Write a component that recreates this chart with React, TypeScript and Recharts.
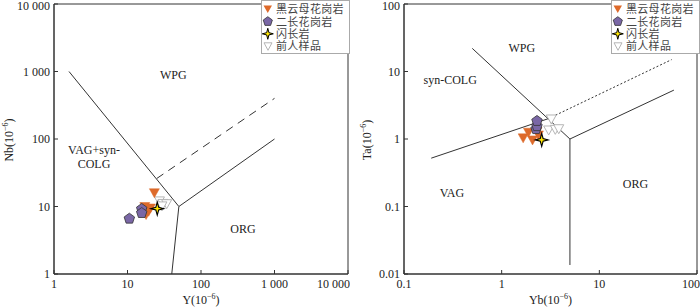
import React from 'react';
import {
  ScatterChart,
  Scatter,
  XAxis,
  YAxis,
  ReferenceLine,
  ReferenceDot,
  ReferenceArea,
  Label,
} from 'recharts';

// ---------- data: left panel (Nb vs Y) ----------
const leftBiotite = [
  { x: 23.2, y: 16 },
  { x: 20.5, y: 9.5 },
  { x: 19.4, y: 8.5 },
  { x: 17.9, y: 7.6 },
  { x: 17.2, y: 10 },
];
const leftPlagio = [
  { x: 10.6, y: 6.6 },
  { x: 15.6, y: 9.2 },
  { x: 15.6, y: 8.0 },
];
const leftDiorite = [{ x: 25.4, y: 9.3 }];
const leftPrevious = [
  { x: 27.2, y: 12.1 },
  { x: 30.4, y: 11.1 },
  { x: 34.1, y: 11.0 },
  { x: 29.4, y: 10.2 },
];

// boundaries (left)
const leftVagWpg = [{ x: 1.6, y: 1000 }, { x: 50, y: 10 }];
const leftOrgWpg = [{ x: 50, y: 10 }, { x: 1000, y: 100 }];
const leftVagOrg = [{ x: 50, y: 10 }, { x: 40, y: 1 }];
const leftDashed = [{ x: 25, y: 26 }, { x: 1000, y: 400 }];

const leftXTicks = [1, 10, 100, 1000, 10000];
const leftYTicks = [1, 10, 100, 1000, 10000];

const leftRegions = [
  { x: 42, y: 900, text: 'WPG' },
  { x: 3.5, y: 68, text: 'VAG+syn-' },
  { x: 3.5, y: 43, text: 'COLG' },
  { x: 373, y: 4.6, text: 'ORG' },
];

// ---------- data: right panel (Ta vs Yb) ----------
const rightBiotite = [
  { x: 1.66, y: 1.04 },
  { x: 1.88, y: 1.26 },
  { x: 2.07, y: 0.97 },
  { x: 2.38, y: 1.15 },
  { x: 2.3, y: 1.3 },
];
const rightPlagio = [
  { x: 2.25, y: 1.4 },
  { x: 2.3, y: 1.55 },
  { x: 2.3, y: 1.85 },
];
const rightDiorite = [{ x: 2.57, y: 0.97 }];
const rightPrevious = [
  { x: 3.22, y: 1.98 },
  { x: 3.03, y: 1.36 },
  { x: 3.54, y: 1.39 },
  { x: 3.84, y: 1.42 },
];

const rightSynWpg = [{ x: 0.5, y: 22 }, { x: 5, y: 1 }];
const rightVagSyn = [{ x: 0.19, y: 0.52 }, { x: 3, y: 2 }];
const rightDotted = [{ x: 3, y: 2 }, { x: 55, y: 15 }];
const rightOrgWpg = [{ x: 5, y: 1 }, { x: 58, y: 5.3 }];
const rightVagOrg = [{ x: 5, y: 1 }, { x: 5, y: 0.0136 }];

const rightXTicks = [0.1, 1, 10, 100];
const rightYTicks = [0.01, 0.1, 1, 10, 100];

const rightRegions = [
  { x: 1.61, y: 22, text: 'WPG' },
  { x: 0.297, y: 7.5, text: 'syn-COLG' },
  { x: 0.31, y: 0.16, text: 'VAG' },
  { x: 23.4, y: 0.213, text: 'ORG' },
];

const legendNames = ['黑云母花岗岩', '二长花岗岩', '闪长岩', '前人样品'];

// ---------- styles ----------
const SERIF = '"Liberation Serif", "Times New Roman", serif';
const CJK = '"Noto Sans CJK SC", sans-serif';
const LINE = '#333';
const ORANGE = '#DD6A2B';
const PURPLE = '#7A67A6';
const YELLOW = '#FFE600';
const GRAY = '#b5b5b5';

const fmt = (v: number) => {
  if (v >= 1000) return String(v).replace(/\B(?=(\d{3})+(?!\d))/g, ' ');
  return String(v);
};

const DownTri = (p: any) => {
  const { cx, cy } = p;
  if (cx == null || cy == null) return null;
  return (
    <polygon
      points={`${cx - 5},${cy - 4} ${cx + 5},${cy - 4} ${cx},${cy + 5}`}
      fill={ORANGE}
      stroke={ORANGE}
      strokeWidth={0.5}
    />
  );
};

const HollowTri = (p: any) => {
  const { cx, cy } = p;
  if (cx == null || cy == null) return null;
  return (
    <polygon
      points={`${cx - 5},${cy - 4} ${cx + 5},${cy - 4} ${cx},${cy + 5}`}
      fill="#fff"
      stroke={GRAY}
      strokeWidth={1}
    />
  );
};

const pentPoints = (cx: number, cy: number, r: number) => {
  const pts: string[] = [];
  for (let k = 0; k < 5; k++) {
    const a = (-90 + 72 * k) * (Math.PI / 180);
    pts.push(`${cx + r * Math.cos(a)},${cy + r * Math.sin(a)}`);
  }
  return pts.join(' ');
};

const Pent = (p: any) => {
  const { cx, cy } = p;
  if (cx == null || cy == null) return null;
  return <polygon points={pentPoints(cx, cy, 5.5)} fill={PURPLE} stroke="#333" strokeWidth={0.8} />;
};

const starPoints = (cx: number, cy: number, ro: number, ri: number) => {
  const pts: string[] = [];
  for (let k = 0; k < 8; k++) {
    const a = (-90 + 45 * k) * (Math.PI / 180);
    const r = k % 2 === 0 ? ro : ri;
    pts.push(`${cx + r * Math.cos(a)},${cy + r * Math.sin(a)}`);
  }
  return pts.join(' ');
};

const Star = (p: any) => {
  const { cx, cy } = p;
  if (cx == null || cy == null) return null;
  return <polygon points={starPoints(cx, cy, 6.5, 2)} fill={YELLOW} stroke="#000" strokeWidth={1.1} />;
};

const regionShape = (text: string) => (p: any) => (
  <text
    x={p.cx}
    y={p.cy}
    textAnchor="middle"
    dominantBaseline="central"
    fontFamily={SERIF}
    fontSize={12}
    fill="#222"
  >
    {text}
  </text>
);

const XTitle = (name: string) => (props: any) => {
  const vb = props.viewBox || {};
  const x = (vb.x ?? 0) + (vb.width ?? 0) / 2;
  const y = (vb.y ?? 0) + 30;
  return (
    <text x={x} y={y} textAnchor="middle" fontFamily={SERIF} fontSize={12} fill="#222">
      <tspan>{name}(10</tspan>
      <tspan dy={-5} fontSize={8}>−6</tspan>
      <tspan dy={5}>)</tspan>
    </text>
  );
};

const YTitle = (name: string, xPos: number, yPos: number) => () => (
  <text
    x={xPos}
    y={yPos}
    textAnchor="middle"
    fontFamily={SERIF}
    fontSize={12}
    fill="#222"
    transform={`rotate(-90 ${xPos} ${yPos})`}
  >
    <tspan>{name}(10</tspan>
    <tspan dy={-5} fontSize={8}>−6</tspan>
    <tspan dy={5}>)</tspan>
  </text>
);

// bottom tick: last label is right-aligned so it stays inside the panel
const makeXTick = (lastValue: number, rightLimit: number) => (p: any) => {
  const v = p.payload?.value;
  const isLast = v === lastValue;
  const x = isLast ? rightLimit : p.x;
  return (
    <text
      x={x}
      y={p.y}
      dy="0.71em"
      textAnchor={isLast ? 'end' : 'middle'}
      fontFamily={SERIF}
      fontSize={12}
      fill="#222"
    >
      {fmt(v)}
    </text>
  );
};

// left tick: keep the top label fully inside the picture
const YTick = (p: any) => {
  const v = p.payload?.value;
  const y = Math.max(p.y, 6);
  return (
    <text
      x={p.x}
      y={y}
      dy="0.355em"
      textAnchor="end"
      fontFamily={SERIF}
      fontSize={12}
      fill="#222"
    >
      {fmt(v)}
    </text>
  );
};

const LegendBox = ({ left }: { left: number }) => {
  const rows = [9, 21.5, 33.8, 46.3];
  const icons = [
    (cy: number) => <polygon points={`${0.5},${cy - 3.5} ${9},${cy - 3.5} ${4.75},${cy + 4}`} fill={ORANGE} />,
    (cy: number) => <polygon points={pentPoints(4.8, cy, 4.8)} fill={PURPLE} stroke="#333" strokeWidth={0.8} />,
    (cy: number) => <polygon points={starPoints(4.8, cy, 5.5, 1.6)} fill={YELLOW} stroke="#000" strokeWidth={1} />,
    (cy: number) => (
      <polygon points={`${1},${cy - 3.5} ${9},${cy - 3.5} ${5},${cy + 4}`} fill="#fff" stroke={GRAY} strokeWidth={1} />
    ),
  ];
  return (
    <svg width={89} height={54} style={{ position: 'absolute', left, top: 0 }}>
      <rect x={0.5} y={0.5} width={88} height={53} fill="#fff" stroke="#aaa" strokeWidth={1} />
      <g transform="translate(2,0)">
        {legendNames.map((n, i) => (
          <g key={n}>
            {icons[i](rows[i])}
            <text
              x={13}
              y={rows[i] + 4}
              fontFamily={CJK}
              fontSize={11}
              letterSpacing={0.3}
              fill="#444"
            >
              {n}
            </text>
          </g>
        ))}
      </g>
    </svg>
  );
};

const Panel = (props: {
  xDomain: [number, number];
  yDomain: [number, number];
  xTicks: number[];
  yTicks: number[];
  xName: string;
  yName: string;
  yTitleX: number;
  biotite: any[];
  plagio: any[];
  diorite: any[];
  previous: any[];
  solid: any[][];
  dashed: { seg: any[]; dash: string }[];
  regions: { x: number; y: number; text: string }[];
  marginRight: number;
}) => (
  <ScatterChart
    width={350}
    height={307}
    margin={{ top: 4, right: props.marginRight, bottom: 0, left: 0 }}
  >
    <XAxis
      type="number"
      dataKey="x"
      scale="log"
      domain={props.xDomain}
      allowDataOverflow
      ticks={props.xTicks}
      interval={0}
      tickFormatter={fmt}
      height={33}
      tickSize={-4}
      tickMargin={9}
      tick={makeXTick(props.xTicks[props.xTicks.length - 1], 350)}
      stroke={LINE}
      label={<Label content={XTitle(props.xName)} />}
    />
    <YAxis
      type="number"
      dataKey="y"
      scale="log"
      domain={props.yDomain}
      allowDataOverflow
      ticks={props.yTicks}
      interval={0}
      tickFormatter={fmt}
      width={54}
      tickSize={-4}
      tickMargin={8}
      tick={YTick}
      stroke={LINE}
      label={<Label content={YTitle(props.yName, props.yTitleX, 140)} />}
    />
    <ReferenceArea
      x1={props.xDomain[0]}
      x2={props.xDomain[1]}
      y1={props.yDomain[0]}
      y2={props.yDomain[1]}
      fill="none"
      fillOpacity={0}
      stroke={LINE}
      strokeWidth={1}
      ifOverflow="visible"
    />
    {props.solid.map((seg, i) => (
      <ReferenceLine key={'s' + i} segment={seg} stroke={LINE} strokeWidth={1} ifOverflow="visible" />
    ))}
    {props.dashed.map((d, i) => (
      <ReferenceLine
        key={'d' + i}
        segment={d.seg}
        stroke={LINE}
        strokeWidth={1}
        strokeDasharray={d.dash}
        ifOverflow="visible"
      />
    ))}
    {props.regions.map((r) => (
      <ReferenceDot
        key={r.text}
        x={r.x}
        y={r.y}
        r={0}
        ifOverflow="visible"
        shape={regionShape(r.text)}
      />
    ))}
    <Scatter data={props.previous} shape={HollowTri} isAnimationActive={false} />
    <Scatter data={props.biotite} shape={DownTri} isAnimationActive={false} />
    <Scatter data={props.plagio} shape={Pent} isAnimationActive={false} />
    <Scatter data={props.diorite} shape={Star} isAnimationActive={false} />
  </ScatterChart>
);

export default function App() {
  return (
    <div
      style={{
        position: 'absolute',
        left: 0,
        top: 0,
        width: 700,
        height: 307,
        background: '#fff',
        overflow: 'hidden',
      }}
    >
      <div style={{ position: 'absolute', left: 0, top: 0 }}>
        <Panel
          xDomain={[1, 10000]}
          yDomain={[1, 10000]}
          xTicks={leftXTicks}
          yTicks={leftYTicks}
          xName="Y"
          yName="Nb"
          yTitleX={13}
          biotite={leftBiotite}
          plagio={leftPlagio}
          diorite={leftDiorite}
          previous={leftPrevious}
          solid={[leftVagWpg, leftOrgWpg, leftVagOrg]}
          dashed={[{ seg: leftDashed, dash: '8 6' }]}
          regions={leftRegions}
          marginRight={2}
        />
      </div>
      <div style={{ position: 'absolute', left: 350, top: 0 }}>
        <Panel
          xDomain={[0.1, 100]}
          yDomain={[0.01, 100]}
          xTicks={rightXTicks}
          yTicks={rightYTicks}
          xName="Yb"
          yName="Ta"
          yTitleX={21}
          biotite={rightBiotite}
          plagio={rightPlagio}
          diorite={rightDiorite}
          previous={rightPrevious}
          solid={[rightSynWpg, rightVagSyn, rightOrgWpg, rightVagOrg]}
          dashed={[{ seg: rightDotted, dash: '2 2' }]}
          regions={rightRegions}
          marginRight={3}
        />
      </div>
      <LegendBox left={261} />
      <LegendBox left={611} />
    </div>
  );
}
